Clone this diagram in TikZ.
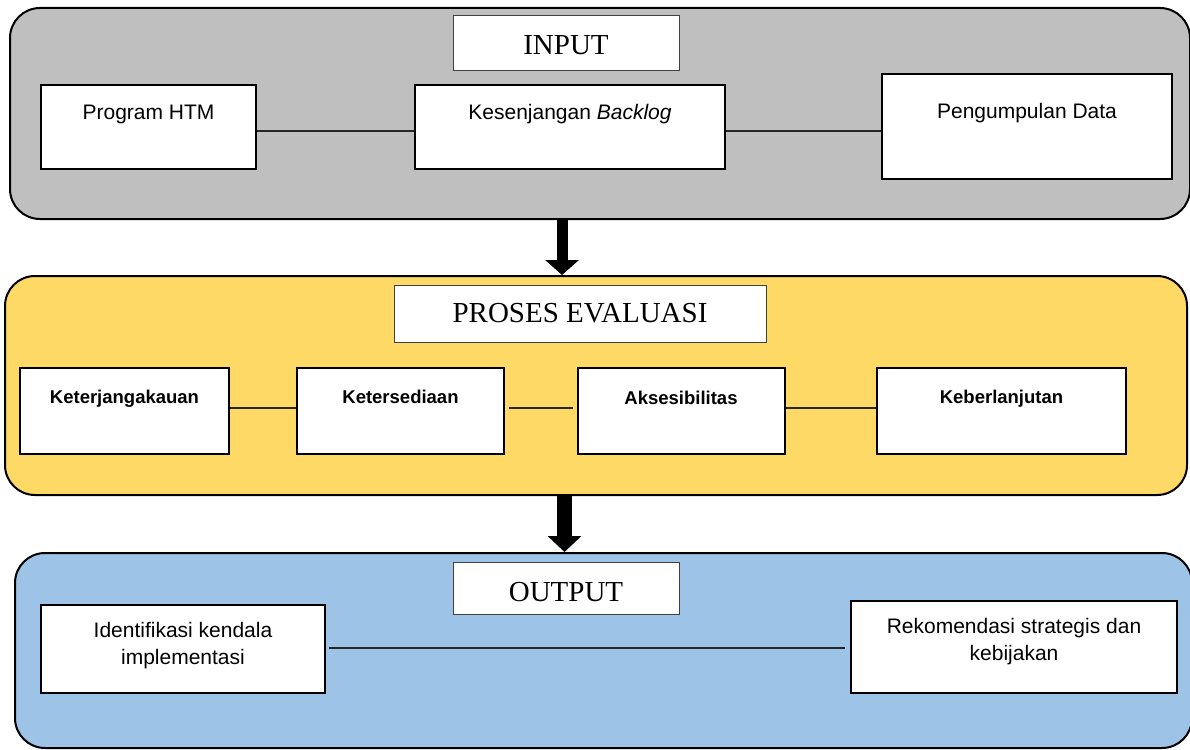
\documentclass[tikz,border=0pt]{standalone}
\usepackage{fontspec}
\setmainfont{Liberation Serif}
\newfontfamily\arialf{Liberation Sans}
\usetikzlibrary{arrows.meta}
\definecolor{panelgray}{HTML}{BFBFBF}
\definecolor{panelyellow}{HTML}{FFD966}
\definecolor{panelblue}{HTML}{9DC3E6}
\begin{document}
\begin{tikzpicture}[x=1pt,y=-1pt,
  panel/.style={draw=black, line width=2pt, rounded corners=30pt, inner sep=0pt},
  titlebox/.style={draw=black!75, line width=1pt, fill=white, inner sep=0pt, font=\fontsize{29}{34}\selectfont},
  itembox/.style={draw=black, line width=2pt, fill=white, inner sep=0pt},
  itemtext/.style={anchor=base, font=\arialf\fontsize{21}{27}\selectfont, inner sep=0pt},
  boldtext/.style={anchor=base, font=\arialf\bfseries\fontsize{18.5}{22}\selectfont, inner sep=0pt},
  link/.style={draw=black!85, line width=1.3pt},
  bigarrowa/.style={line width=11pt, -{Triangle[width=33pt,length=15pt]}},
  bigarrowb/.style={line width=15pt, -{Triangle[width=33pt,length=16pt]}}]
\useasboundingbox (0,0) rectangle (1190,749);

% panels
\node[panel, fill=panelgray, minimum width=1180pt, minimum height=211pt] (inpanel) at (600,113.5) {};
\node[panel, fill=panelyellow, minimum width=1182pt, minimum height=219pt] (procpanel) at (596,385.5) {};
\node[panel, fill=panelblue, minimum width=1177pt, minimum height=195pt] (outpanel) at (603.5,650.5) {};

% titles
\node[titlebox, minimum width=226pt, minimum height=55pt, text height=22pt] (tinput) at (566,43.5) {INPUT};
\node[titlebox, minimum width=372pt, minimum height=57pt] (tproc) at (580,313.5) {PROSES EVALUASI};
\node[titlebox, minimum width=226pt, minimum height=52pt, text height=27pt] (toutput) at (566,588) {OUTPUT};

% input boxes
\node[itembox, minimum width=215pt, minimum height=84pt] (prog) at (148.5,127) {};
\node[itembox, minimum width=310pt, minimum height=84pt] (kes) at (570,127) {};
\node[itembox, minimum width=290pt, minimum height=105pt] (pd) at (1027,126.5) {};
\node[itemtext] (tprog) at (148.5,120) {Program HTM};
\node[itemtext] (tkes) at (570,120) {Kesenjangan \textit{Backlog}};
\node[itemtext] (tpd) at (1027,118) {Pengumpulan Data};

% process boxes
\node[itembox, minimum width=209pt, minimum height=86pt] (ket1) at (124.5,411) {};
\node[itembox, minimum width=207pt, minimum height=86pt] (ket2) at (400.5,411) {};
\node[itembox, minimum width=207pt, minimum height=86pt] (aks) at (681.5,411) {};
\node[itembox, minimum width=249pt, minimum height=86pt] (keb) at (1001.5,411) {};
\node[boldtext] (tket1) at (124.5,403) {Keterjangakauan};
\node[boldtext] (tket2) at (400.5,403) {Ketersediaan};
\node[boldtext] (taks) at (681,404) {Aksesibilitas};
\node[boldtext] (tkeb) at (1001.5,403) {Keberlanjutan};

% output boxes
\node[itembox, minimum width=284pt, minimum height=88pt] (idk) at (183,649) {};
\node[itembox, minimum width=326pt, minimum height=92pt] (rek) at (1014,647) {};
\node[itemtext] (tidka) at (183,637) {Identifikasi kendala};
\node[itemtext] (tidkb) at (183,664) {implementasi};
\node[itemtext] (treka) at (1014,633) {Rekomendasi strategis dan};
\node[itemtext] (trekb) at (1014,660) {kebijakan};

% connectors
\draw[link] ([yshift=-4pt]prog.east) -- ([yshift=-4pt]kes.west);
\draw[link] ([yshift=-4pt]kes.east) -- ([yshift=-4pt]kes.east -| pd.west);
\draw[link] ([yshift=3pt]ket1.east) -- ([yshift=3pt]ket2.west);
\draw[link] ([xshift=4pt,yshift=3pt]ket2.east) -- ([xshift=-4pt,yshift=3pt]aks.west);
\draw[link] ([yshift=3pt]aks.east) -- ([yshift=3pt]keb.west);
\draw[link] ([xshift=3pt,yshift=1pt]idk.east) -- ([xshift=-5pt,yshift=1pt]idk.east -| rek.west);

% big arrows
\draw[bigarrowa] ([xshift=-38pt]inpanel.south) -- ([xshift=-38pt]inpanel.south |- procpanel.north);
\draw[bigarrowb] ([xshift=-31.5pt]procpanel.south) -- ([xshift=-31.5pt]procpanel.south |- outpanel.north);
\end{tikzpicture}
\end{document}
